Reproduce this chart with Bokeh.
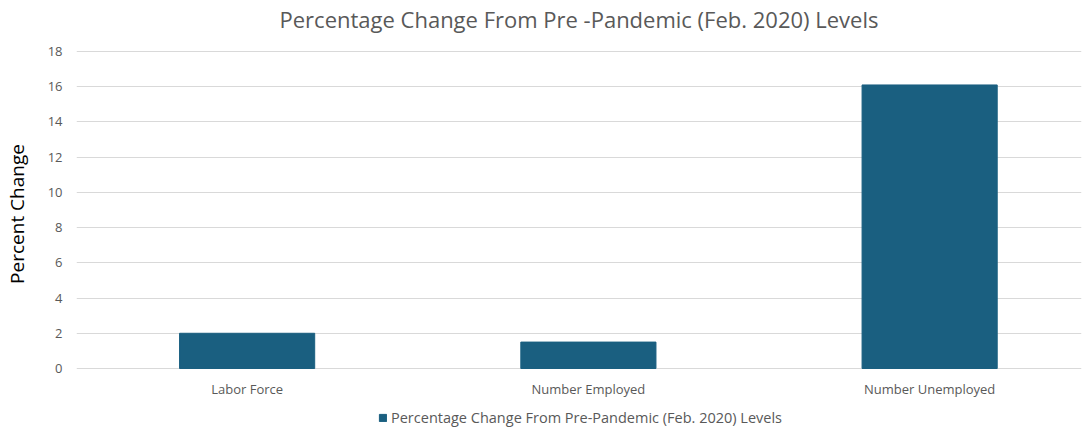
from bokeh.plotting import figure
from bokeh.models import (ColumnDataSource, Range1d, FixedTicker, Legend, LegendItem, Label, LabelSet)
from bokeh.core.properties import value
from bokeh.embed import file_html
from bokeh.resources import INLINE

categories = ["Labor Force", "Number Employed", "Number Unemployed"]
values = [2.0, 1.5, 16.1]
y_ticks = [0, 2, 4, 6, 8, 10, 12, 14, 16, 18]
series_name = "Percentage Change From Pre-Pandemic (Feb. 2020) Levels"
title_text = "Percentage Change From Pre -Pandemic (Feb. 2020) Levels"

FONT = "Open Sans"
GREY = "#595959"
BAR = "#1A5F80"

xs = list(range(len(categories)))
src = ColumnDataSource(dict(x=xs, top=values, cat=categories, base=[0] * len(xs)))

# frame spans the full canvas height; y=0 sits 59px above the bottom, y=18 51px below the top
px_per_unit = 317 / 18
y_lo = -59 / px_per_unit
y_hi = 18 + 51 / px_per_unit
x_rng = Range1d(-0.5, 2.445)

p = figure(width=1084, height=427, frame_width=1005, frame_height=427,
           output_backend="svg", toolbar_location=None,
           x_range=x_rng, y_range=Range1d(y_lo, y_hi),
           min_border_left=75, min_border_right=4, min_border_top=0, min_border_bottom=0)
p.outline_line_color = None
p.background_fill_color = "white"
p.border_fill_color = "white"
p.title.visible = False

r = p.vbar(x="x", top="top", width=0.396, source=src, color=BAR)

p.xaxis.visible = False
p.xgrid.grid_line_color = None

p.yaxis.ticker = FixedTicker(ticks=y_ticks)
p.yaxis.axis_line_color = None
p.yaxis.major_tick_line_color = None
p.yaxis.minor_tick_line_color = None
p.yaxis.major_tick_out = 0
p.yaxis.major_label_text_font = FONT
p.yaxis.major_label_text_font_size = "13px"
p.yaxis.major_label_text_color = GREY
p.yaxis.major_label_standoff = 14
p.yaxis.axis_label = "Percent Change"
p.yaxis.axis_label_text_font = FONT
p.yaxis.axis_label_text_font_size = "19px"
p.yaxis.axis_label_text_font_style = "normal"
p.yaxis.axis_label_text_color = "black"
p.yaxis.axis_label_standoff = 15

p.ygrid.ticker = FixedTicker(ticks=y_ticks)
p.ygrid.grid_line_color = "#D9D9D9"
p.ygrid.grid_line_width = 1

# category labels under the baseline
cat_labels = LabelSet(x="x", y="base", text="cat", source=src, y_offset=-20,
                      text_align="center", text_baseline="middle",
                      text_font=value(FONT), text_font_size=value("13px"),
                      text_color=value(GREY))
p.add_layout(cat_labels)

# chart title
p.add_layout(Label(x=(x_rng.start + x_rng.end) / 2, y=y_hi, y_offset=-18, text=title_text,
                   text_align="center", text_baseline="middle",
                   text_font=FONT, text_font_size="22px", text_color=GREY))

legend = Legend(items=[LegendItem(label=series_name, renderers=[r])],
                orientation="horizontal", location=(302, 0),
                label_text_font=FONT, label_text_font_size="14.5px", label_text_color=GREY,
                glyph_width=9, glyph_height=9, label_standoff=4, label_height=18,
                border_line_color=None, background_fill_alpha=0,
                padding=0, margin=0, spacing=0)
p.add_layout(legend, "center")

open("out.html", "w").write(file_html(p, INLINE))
